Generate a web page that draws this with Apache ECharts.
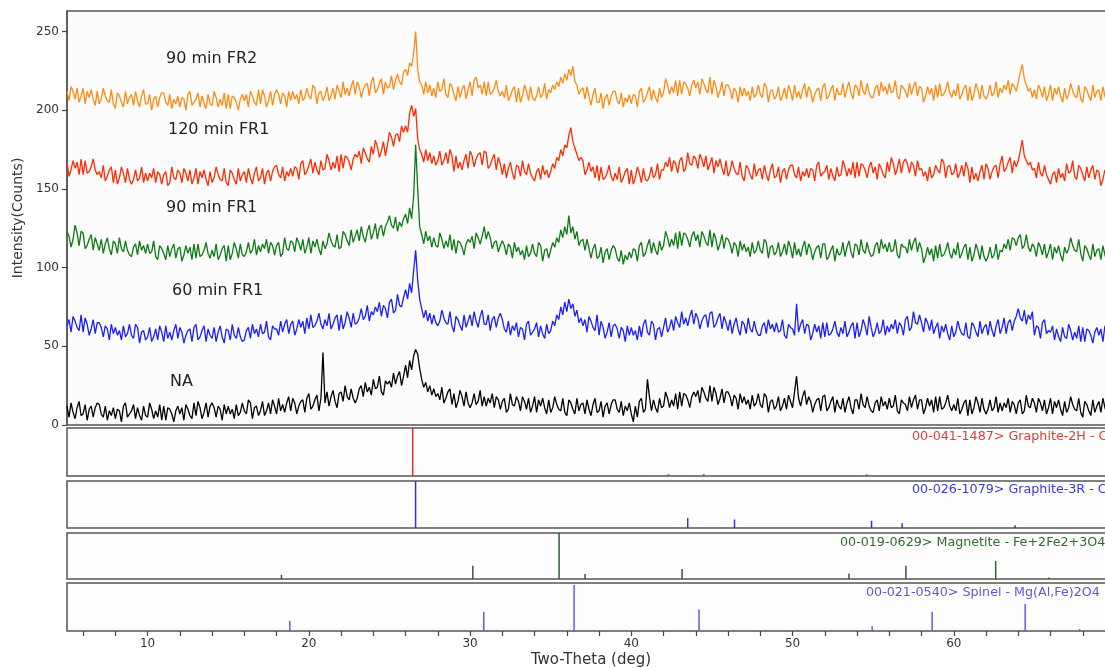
<!DOCTYPE html>
<html><head><meta charset="utf-8">
<script src="https://cdn.jsdelivr.net/npm/echarts@6/dist/echarts.min.js"></script>
<style>html,body{margin:0;padding:0;background:#fff}#chart{width:1105px;height:668px}</style>
</head><body><div id="chart"></div>
<script>
// ---- data (one row = one degree, 8 samples per degree) ----
const twoThetaStart = 5;
const twoThetaStep = 0.125;
const sampleNames = ['NA', '60 min FR1', '90 min FR1', '120 min FR1', '90 min FR2'];

const naCounts = [
12,5,14,8,4,11,15,6, 7,13,3,10,12,5,11,14, 13,7,5,12,3,9,6,11, 4,10,9,2,12,14,5,7, 9,13,4,11,6,3,12,6,
5,14,10,4,9,5,13,3, 12,3,11,10,7,2,9,12, 7,11,3,13,10,6,4,14, 6,15,11,4,8,14,5,12, 14,11,5,12,10,3,13,7,
12,7,10,4,13,6,8,14, 9,7,16,14,4,11,12,6, 9,15,6,9,14,7,16,12, 7,17,9,13,8,14,18,9, 17,14,7,12,15,16,8,17,
20,10,12,16,19,9,17,46, 14,21,12,18,22,15,11,20, 21,15,25,18,16,23,17,14, 17,23,25,18,27,21,24,19, 29,23,24,31,21,19,28,26,
28,24,33,26,31,34,25,31, 38,30,41,35,44,48,45,36, 29,24,27,21,25,19,23,18, 20,16,24,14,17,21,23,13, 20,11,15,22,18,12,21,14,
11,14,20,13,15,22,12,18, 12,17,14,20,11,18,16,10, 15,17,8,10,20,13,12,18, 15,9,18,15,10,17,8,12, 18,8,16,12,17,11,7,16,
8,11,18,13,10,9,17,8, 6,16,14,10,7,17,9,13, 14,7,16,10,6,13,17,8, 9,15,5,12,14,7,13,16, 16,10,8,15,6,12,9,14,
7,2,12,5,15,17,8,10, 29,18,9,16,11,8,17,11, 12,21,17,11,16,12,20,10, 21,12,20,19,16,11,18,21, 18,22,14,24,21,17,15,25,
15,24,20,13,17,23,14,21, 21,18,12,19,17,10,20,14, 18,13,16,10,19,12,14,20, 13,11,20,18,8,15,16,10, 12,18,9,12,17,10,19,15,
11,21,31,17,12,18,22,13, 18,15,8,13,16,17,9,18, 19,9,11,15,18,8,16,12, 10,17,8,14,18,11,7,16, 16,10,20,13,11,18,12,9,
8,14,16,9,18,12,15,10, 17,11,12,19,9,7,16,14, 13,9,18,11,16,19,10,16, 16,7,11,17,12,16,8,18, 9,18,10,11,14,19,12,9,
13,9,17,7,10,14,16,6, 16,7,11,18,14,8,17,10, 7,10,16,9,11,18,8,14, 9,14,11,17,8,15,13,7, 14,16,7,9,19,12,11,17,
14,8,17,14,9,16,7,11, 17,7,15,11,16,10,6,15, 8,11,18,13,10,9,17,8, 5,15,13,9,6,16,8,12, 15,8,17,11,7,14,18,9,
12];

const fr1_60Counts = [
63,67,59,69,66,62,60,70, 59,68,64,57,61,67,58,65, 65,62,56,63,61,54,64,58, 62,57,60,54,63,56,58,64, 57,55,64,62,52,59,60,54,
56,62,53,56,61,54,63,59, 53,63,55,59,54,60,64,55, 62,59,52,57,60,61,53,62, 64,54,56,60,63,53,61,57, 55,62,53,59,63,56,52,61,
60,54,64,57,55,62,56,53, 54,60,62,55,64,58,61,56, 64,58,59,66,56,54,63,61, 61,57,66,59,64,67,58,64, 66,57,61,67,62,66,58,68,
61,70,62,63,66,71,64,61, 67,63,71,61,64,68,70,60, 70,61,65,72,68,62,71,64, 65,68,74,67,69,76,66,72, 70,75,72,78,69,76,74,68,
78,80,71,73,83,76,75,81, 86,80,90,84,98,111,92,80, 74,68,73,66,71,64,70,65, 63,66,73,68,65,64,72,63, 59,69,67,63,60,70,62,66,
70,63,72,66,62,69,73,64, 64,70,60,67,69,62,68,71, 67,61,59,66,57,63,60,65, 56,62,61,54,64,66,57,59, 61,65,56,63,58,55,64,58,
60,66,63,70,67,75,70,78, 72,80,74,77,69,73,65,68, 63,67,59,69,66,62,60,70, 57,66,62,55,59,65,56,63, 64,61,55,62,60,53,63,57,
62,57,60,54,63,56,64,67, 59,57,66,64,54,61,62,56, 62,68,59,62,67,60,69,65, 62,72,64,68,63,69,73,64, 71,68,61,66,69,70,62,71,
72,62,64,68,71,61,69,65, 60,67,58,64,68,61,57,66, 64,58,68,61,59,66,60,57, 57,63,65,58,67,61,64,59, 65,59,60,67,57,55,64,62,
61,57,77,59,64,67,58,64, 63,54,58,64,59,63,55,65, 56,65,57,58,61,66,59,56, 62,58,66,56,59,63,65,55, 65,56,60,67,63,57,69,62,
56,59,65,58,60,67,57,63, 59,64,61,67,58,65,63,57, 67,69,60,62,72,65,64,70, 65,59,68,65,60,67,58,62, 65,55,63,59,64,58,54,63,
56,59,66,61,58,57,65,56, 55,65,63,59,56,66,58,62, 64,57,66,60,56,63,67,58, 62,68,58,65,67,60,66,69, 74,68,66,73,64,70,67,72,
57,63,62,55,65,67,58,60, 59,63,54,61,56,53,62,56, 55,64,60,54,59,55,63,53, 62,53,61,60,57,52,59,62, 57,61,53,63,60,56,54,64,
58];

const fr1_90Counts = [
123,120,113,118,127,122,114,123, 122,112,114,118,121,111,119,115, 111,118,109,115,119,112,108,117, 115,109,119,112,110,117,111,108, 107,113,115,108,117,111,114,109,
115,109,110,117,107,105,114,112, 109,105,114,107,112,115,106,112, 113,104,108,114,109,113,105,115, 106,115,107,108,111,116,109,106, 111,107,115,105,108,112,114,104,
114,105,109,116,112,106,115,108, 107,110,116,109,111,118,108,114, 110,115,112,118,109,116,114,108, 114,116,107,109,119,112,111,117, 116,110,119,116,111,118,109,113,
119,109,117,113,118,112,108,117, 112,115,122,117,114,113,121,112, 113,123,121,117,114,124,116,120, 124,117,126,120,116,123,127,118, 122,128,118,125,127,120,126,129,
133,127,125,132,123,129,126,131, 134,128,138,131,145,178,150,126, 121,115,123,117,120,113,119,114, 113,122,118,112,117,113,121,111, 118,109,117,116,113,108,115,118,
116,120,112,122,119,115,120,126, 118,123,119,112,116,117,110,114, 117,114,108,115,113,106,116,110, 113,108,111,105,114,107,109,115, 109,107,116,114,104,111,112,106,
111,116,113,119,116,124,119,126, 121,133,122,126,118,123,114,117, 118,111,118,112,106,112,115,106, 107,113,103,110,112,105,111,114, 112,106,104,111,102,108,105,110,
106,112,111,104,114,116,107,109, 114,118,109,116,111,108,117,111, 114,123,119,113,118,114,122,112, 123,114,122,121,118,113,120,123, 117,121,113,123,120,116,114,124,
113,122,118,111,115,121,112,119, 118,115,109,116,114,107,117,111, 115,110,113,107,116,109,111,117, 111,109,118,116,106,113,114,108, 110,116,107,110,115,108,117,113,
106,116,108,112,107,113,117,108, 115,112,105,110,113,114,106,115, 115,105,107,111,114,104,112,108, 109,116,107,113,117,110,106,115, 114,108,118,111,109,116,110,107,
108,114,116,109,118,112,115,110, 116,110,111,118,108,106,115,113, 113,109,118,111,116,119,110,116, 112,103,107,113,108,112,104,114, 106,115,107,108,111,116,109,106,
112,108,116,106,109,113,115,105, 113,104,108,115,111,105,114,107, 104,107,113,106,108,115,105,111, 110,115,112,118,111,119,118,114, 119,121,112,114,121,113,110,115,
113,107,116,113,108,115,106,110, 115,105,113,109,114,108,104,113, 109,112,119,114,111,110,118,109, 104,114,112,108,105,115,107,111, 112,105,114,108,104,111,115,106,
110];

const fr1_120Counts = [
167,158,162,168,163,167,159,169, 159,168,160,161,164,169,162,159, 161,157,165,155,158,162,164,154, 162,153,157,164,160,154,163,156, 153,156,162,155,157,164,154,160,
155,160,157,163,154,161,159,153, 159,161,152,154,164,157,156,162, 160,154,163,160,155,162,153,157, 163,153,161,157,162,156,152,161, 154,157,164,159,156,155,163,154,
152,162,160,156,153,163,155,159, 161,154,163,157,153,160,164,155, 157,163,153,160,162,155,161,164, 165,159,157,164,155,161,158,163, 158,164,163,156,166,168,159,161,
165,169,160,167,162,159,168,162, 163,172,168,162,167,163,171,161, 172,163,171,170,167,162,169,172, 170,174,166,176,173,169,167,177, 172,181,177,170,174,180,171,178,
186,183,177,184,185,180,190,186, 190,186,198,203,196,201,182,175, 172,167,175,168,173,166,171,165, 168,174,165,168,173,166,175,171, 161,171,163,167,162,168,172,163,
174,171,164,169,172,173,165,174, 173,163,165,169,172,162,170,166, 159,166,157,163,167,160,156,165, 164,158,168,161,159,166,160,157, 155,161,163,156,165,159,162,157,
161,166,163,170,168,175,171,178, 176,184,189,180,176,172,168,170, 168,159,162,167,161,164,157,165, 155,164,156,157,160,165,158,155, 160,156,164,154,157,161,163,153,
162,153,157,164,160,154,163,156, 155,158,164,157,159,166,156,162, 162,167,164,170,161,168,166,160, 168,170,161,163,173,166,165,171, 169,163,172,169,164,171,162,166,
170,160,168,164,169,163,159,168, 158,161,168,163,160,159,167,158, 155,165,163,159,156,166,158,162, 163,156,165,159,155,162,166,157, 158,164,154,161,163,156,162,165,
165,159,157,164,155,161,158,163, 157,163,162,155,165,167,158,160, 161,165,156,163,158,155,164,158, 159,168,164,158,163,159,167,157, 167,158,166,165,162,157,164,167,
160,164,156,166,163,159,157,167, 161,170,166,159,163,169,160,167, 169,166,160,167,165,158,168,162, 163,158,161,155,164,157,159,165, 162,160,169,167,157,164,165,159,
160,166,157,160,165,158,167,163, 154,164,156,160,155,161,165,156, 166,163,156,161,164,165,157,166, 171,161,163,167,170,160,168,164, 168,174,181,171,168,165,167,162,
163,157,167,160,158,165,159,156, 153,159,161,154,163,157,160,155, 166,160,161,168,158,156,165,163, 159,155,164,157,162,165,156,162, 161,152,156,162,157,161,153,163,
157];

const fr2_90Counts = [
212,206,215,212,207,214,205,209, 214,204,212,208,213,207,203,212, 204,207,214,209,206,205,213,204, 201,211,209,205,202,212,204,208, 210,203,212,206,202,209,213,204,
204,210,200,207,209,202,208,211, 211,205,203,210,201,207,204,209, 202,208,207,200,210,212,203,205, 207,211,202,209,204,201,210,204, 203,212,208,202,207,203,211,201,
210,201,209,208,205,200,207,210, 206,210,202,212,209,205,203,213, 204,213,209,202,206,212,203,210, 213,210,204,211,209,202,212,206, 212,207,210,204,213,206,208,214,
209,207,216,214,204,211,212,206, 209,215,206,209,214,207,216,212, 208,218,210,214,209,215,219,210, 218,215,208,213,216,217,209,218, 221,211,213,217,220,210,218,214,
215,222,213,219,223,218,216,224, 226,222,230,228,236,250,226,218, 216,210,218,211,216,209,214,208, 218,212,213,220,210,208,217,215, 210,206,215,208,213,216,207,213,
218,209,219,221,214,216,210,218, 209,218,210,211,214,219,212,209, 212,208,216,206,209,213,215,205, 214,205,209,216,212,206,215,208, 206,209,215,208,210,217,207,213,
211,216,213,218,215,221,217,223, 219,226,222,228,218,216,210,213, 214,207,215,209,203,210,214,205, 205,211,201,208,210,203,209,212, 212,206,204,211,202,208,205,210,
204,210,209,202,212,214,205,207, 211,215,206,213,208,205,214,208, 211,220,216,210,215,211,219,209, 219,210,218,217,214,209,216,219, 214,218,210,220,217,213,211,221,
210,219,215,208,212,218,209,216, 216,213,207,214,212,205,215,209, 214,209,212,206,215,208,210,216, 210,208,217,215,205,212,213,207, 209,215,206,209,214,207,216,212,
206,216,208,212,207,213,217,208, 215,212,205,210,213,214,206,215, 217,207,209,213,216,206,214,210, 210,217,208,214,218,211,207,216, 215,209,219,212,210,217,211,208,
208,214,216,209,218,212,215,210, 217,211,212,219,209,207,216,214, 212,208,217,210,215,218,209,215, 214,205,209,215,210,214,206,216, 208,217,209,210,213,218,211,208,
213,209,217,207,210,214,216,206, 215,206,210,217,213,207,216,209, 207,210,216,209,211,218,208,214, 211,216,213,219,210,217,215,212, 218,224,229,220,216,212,214,208,
213,207,216,213,208,215,206,210, 216,206,214,210,215,209,205,214, 207,210,217,212,209,208,216,207, 205,215,213,209,206,216,208,212, 213,206,215,209,205,212,216,207,
208];

// reference patterns: [2theta, relative intensity %]
const graphite2HPeaks = [[26.44,100],[42.3,4],[44.5,4],[54.6,4]];
const graphite3RPeaks = [[26.62,100],[43.5,21],[46.4,18],[54.9,15],[56.8,10],[63.8,6]];
const magnetitePeaks = [[18.3,9],[30.17,29],[35.52,100],[37.13,11],[43.15,22],[53.5,12],[57.03,29],[62.6,39],[65.9,3]];
const spinelPeaks = [[18.82,21],[30.85,40],[36.45,96],[44.2,45],[54.94,10],[58.66,40],[64.43,56],[67.8,4]];
const phaseLabels = ['00-041-1487> Graphite-2H - C', '00-026-1079> Graphite-3R - C',
  '00-019-0629> Magnetite - Fe+2Fe2+3O4', '00-021-0540> Spinel - Mg(Al,Fe)2O4'];

const yTickValues = [0, 50, 100, 150, 200, 250];
const xTickValues = [6,8,10,12,14,16,18,20,22,24,26,28,30,32,34,36,38,40,42,44,46,48,50,52,54,56,58,60,62,64,66,68];
const xLabelValues = [10, 20, 30, 40, 50, 60];

// ---- chart ----
const toPairs = arr => arr.map((v, i) => [twoThetaStart + i * twoThetaStep, v]);
const chart = echarts.init(document.getElementById('chart'), null, {renderer: 'canvas'});
const FONT = '"DejaVu Sans", Verdana, sans-serif';
const frame = '#555';
const plotLeft = 67, plotWidth = 1048;
const panelGeom = [[428, 48], [481, 47], [533, 46], [583, 48]];
const stickColors = ['#e02a2a', '#3434d4', '#2f5f2f', '#6a58e0'];
const labelColors = ['#e23a3a', '#3b3bcf', '#2f6b2f', '#6b50e0'];
const labelX = [912, 912, 840, 866];
const labelY = [437, 490, 543, 593];
const peakSets = [graphite2HPeaks, graphite3RPeaks, magnetitePeaks, spinelPeaks];

const grids = [{left: plotLeft, width: plotWidth, top: 11, height: 414, show: true, outerBoundsMode: 'none',
  containLabel: false, borderColor: frame, borderWidth: 1.5, backgroundColor: '#fcfcfc'}];
panelGeom.forEach(g => grids.push({left: plotLeft, width: plotWidth, top: g[0], height: g[1], show: true,
  outerBoundsMode: 'none', containLabel: false, borderColor: frame, borderWidth: 1.5, backgroundColor: '#fdfdfd'}));

const xAxes = [];
for (let i = 0; i < 5; i++) {
  const last = i === 4;
  xAxes.push({
    type: 'value', gridIndex: i, min: 5, max: 70,
    axisLine: {show: false}, splitLine: {show: false},
    axisTick: last ? {show: true, customValues: xTickValues, length: 5, lineStyle: {color: '#444', width: 1.2}} : {show: false},
    axisLabel: last ? {show: true, customValues: xLabelValues, color: '#333', fontSize: 12, fontFamily: FONT, margin: 7} : {show: false},
    name: last ? 'Two-Theta (deg)' : '', nameLocation: 'middle', nameGap: 22,
    nameTextStyle: {color: '#333', fontSize: 15, fontFamily: FONT}
  });
}
const yAxes = [{
  type: 'value', gridIndex: 0, min: 0, max: 263,
  axisLine: {show: true, lineStyle: {color: frame, width: 1.5}},
  axisTick: {show: true, customValues: yTickValues, length: 5, lineStyle: {color: '#444', width: 1.2}},
  axisLabel: {customValues: yTickValues, color: '#333', fontSize: 12, fontFamily: FONT, margin: 8},
  splitLine: {show: false},
  name: 'Intensity(Counts)', nameLocation: 'middle', nameGap: 42,
  nameTextStyle: {color: '#333', fontSize: 14, fontFamily: FONT}
}];
for (let i = 1; i < 5; i++) yAxes.push({type: 'value', gridIndex: i, min: 0, max: 100, show: false});

const traces = [
  {data: fr2_90Counts, color: '#ff8a12'},
  {data: fr1_120Counts, color: '#ff2a00'},
  {data: fr1_90Counts, color: '#0c7a12'},
  {data: fr1_60Counts, color: '#1c1cff'},
  {data: naCounts, color: '#000000'}
];
const series = traces.map(t => ({
  type: 'line', xAxisIndex: 0, yAxisIndex: 0, data: toPairs(t.data),
  showSymbol: false, symbol: 'none', animation: false, silent: true,
  lineStyle: {color: t.color, width: 1.3}, itemStyle: {color: t.color}
}));

function stickRenderer(params, api) {
  const top = api.coord([api.value(0), api.value(1)]);
  const base = api.coord([api.value(0), 0]);
  return {type: 'line', shape: {x1: base[0], y1: base[1], x2: top[0], y2: top[1]},
    style: {stroke: api.visual('color'), lineWidth: 1.5}};
}
peakSets.forEach((p, i) => series.push({
  type: 'custom', xAxisIndex: i + 1, yAxisIndex: i + 1, data: p, renderItem: stickRenderer,
  encode: {x: 0, y: 1}, itemStyle: {color: stickColors[i]}, silent: true, animation: false
}));

const sampleLabelPos = [[170, 382], [172, 291], [166, 208], [168, 130], [166, 59]];
const graphics = [];
sampleNames.forEach((n, i) => graphics.push({
  type: 'text', x: sampleLabelPos[i][0], y: sampleLabelPos[i][1], silent: true,
  style: {text: n, font: '16px ' + FONT, fill: '#222', verticalAlign: 'middle', align: 'left'}
}));
phaseLabels.forEach((n, i) => graphics.push({
  type: 'text', x: labelX[i], y: labelY[i], silent: true,
  style: {text: n, font: '12.7px ' + FONT, fill: labelColors[i], verticalAlign: 'middle', align: 'left'}
}));

chart.setOption({
  animation: false,
  backgroundColor: '#ffffff',
  grid: grids, xAxis: xAxes, yAxis: yAxes, series: series, graphic: graphics
});
</script></body></html>
